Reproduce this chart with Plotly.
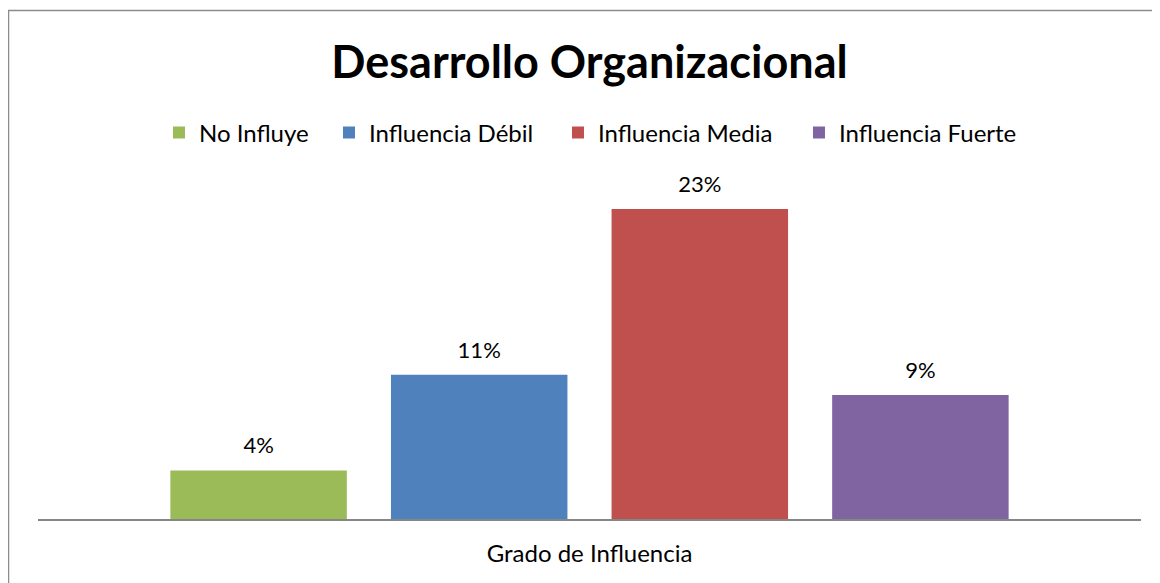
import plotly.graph_objects as go

category = ["Grado de Influencia"]
series_names = ["No Influye", "Influencia Débil", "Influencia Media", "Influencia Fuerte"]
values = [0.036, 0.107, 0.23, 0.092]
colors = ["#9BBB59", "#4F81BD", "#C0504D", "#8064A2"]
legend_widths = [125, 184, 196, 180]

FONT = "Lato, Calibri, Carlito, sans-serif"
W, H = 1152, 575
ML, MR, MT, MB = 30, 19, 174, 64
PW, PH = W - ML - MR, H - MT - MB

fig = go.Figure()
for name, v, c, lw in zip(series_names, values, colors, legend_widths):
    fig.add_trace(go.Bar(
        x=category, y=[v], name=name, marker=dict(color=c, line=dict(width=0)),
        legendwidth=lw, hoverinfo="skip",
    ))
for name, v in zip(series_names, values):
    fig.add_trace(go.Scatter(
        x=category, y=[v], mode="markers+text", showlegend=False,
        marker=dict(size=17, opacity=0), text=[v], texttemplate="%{y:.0%}",
        textposition="top center", cliponaxis=False, hoverinfo="skip",
        textfont=dict(family=FONT, size=22, color="#000000"),
    ))

fig.update_layout(
    width=W, height=H,
    margin=dict(l=ML, r=MR, t=MT, b=MB),
    paper_bgcolor="white", plot_bgcolor="white",
    barmode="group", bargap=0.2, bargroupgap=0.2,
    scattermode="group", scattergap=0.2,
    title=dict(text="<b>Desarrollo Organizacional</b>", x=0.5, xref="paper", xanchor="center",
               y=1 - 54 / H, yanchor="middle",
               font=dict(family=FONT, size=45, color="#000000")),
    legend=dict(orientation="h", x=0.5018, xanchor="center", y=(PH + MT - 125) / PH, yanchor="middle",
                font=dict(family=FONT, size=24, color="#000000"),
                traceorder="normal", itemclick=False),
    xaxis=dict(showline=True, linecolor="#868686", linewidth=2, ticks="",
               ticklabelstandoff=12,
               tickfont=dict(family=FONT, size=24, color="#000000"),
               showgrid=False, zeroline=False),
    yaxis=dict(visible=False, range=[0, 0.25], showgrid=False, zeroline=False),
    shapes=[dict(type="rect", xref="paper", yref="paper",
                 x0=(0.5 - ML) / PW, x1=1.1, y0=-0.5, y1=(PH + MT - 2.5) / PH,
                 line=dict(color="#8C8C8C", width=1.5), fillcolor="rgba(0,0,0,0)", layer="below")],
)

fig.write_html("out.html")
